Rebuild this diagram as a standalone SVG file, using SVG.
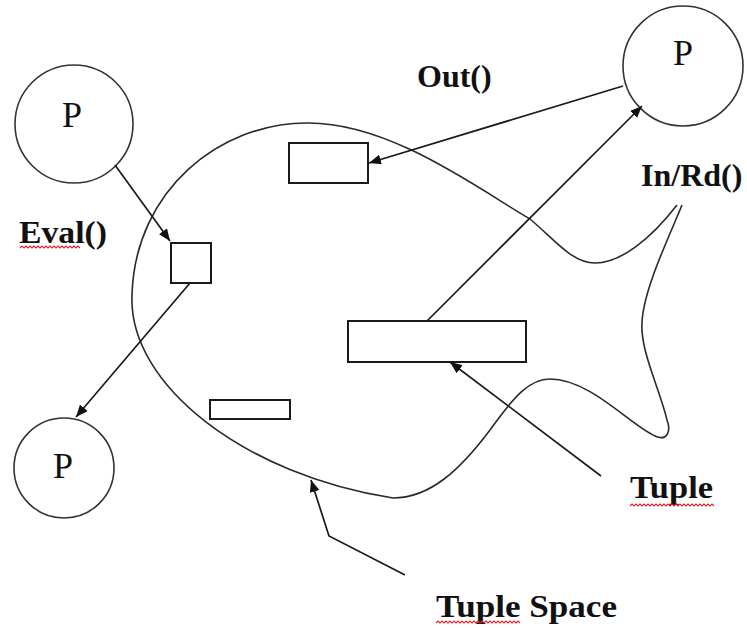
<svg xmlns="http://www.w3.org/2000/svg" width="747" height="628" viewBox="0 0 747 628">
  <style>
    .proc { fill: #ffffff; stroke: #333333; stroke-width: 1.6; }
    .ptxt { font-family: "Liberation Serif", "Times New Roman", serif; font-size: 36px; fill: #111111; text-anchor: middle; }
    .tuple { fill: #ffffff; stroke: #1a1a1a; stroke-width: 2; }
    .space { fill: none; stroke: #2a2a2a; stroke-width: 1.6; }
    .conn { fill: none; stroke: #1a1a1a; stroke-width: 1.7; marker-end: url(#arrow); }
    .lbl { font-family: "Liberation Serif", "Times New Roman", serif; font-weight: bold; font-size: 32px; fill: #111111; }
    .squig { fill: none; stroke: #e0202a; stroke-width: 1.1; }
  </style>
  <defs>
    <marker id="arrow" markerUnits="userSpaceOnUse" markerWidth="13" markerHeight="10" refX="12" refY="5" orient="auto">
      <path d="M0,0 L12,5 L0,10 z" fill="#111111"/>
    </marker>
  </defs>

  <rect x="0" y="0" width="747" height="628" fill="#ffffff"/>

  <!-- tuple space outline (fish shape) -->
  <g id="tuple-space">
    <path class="space" d="M677,205
      C650,240 620,263 595,263
      C572,263 555,240 530,219
      C480,190 390,122 307,123
      C220,123 135,190 132,295
      C128,385 245,475 393,498
      C430,498 460,470 490,430
      C515,395 530,379 550,379
      C590,379 630,425 655,436
      C668,442 671,430 667,420
      C660,390 640,350 642,323
      C643,290 670,235 682,205"/>
  </g>

  <!-- processes -->
  <g id="proc-top-left">
    <circle class="proc" cx="74" cy="124" r="59"/>
    <text class="ptxt" x="72" y="127">P</text>
  </g>
  <g id="proc-bottom-left">
    <circle class="proc" cx="64" cy="468" r="50"/>
    <text class="ptxt" x="63" y="478">P</text>
  </g>
  <g id="proc-top-right">
    <circle class="proc" cx="683" cy="66" r="60"/>
    <text class="ptxt" x="683" y="65">P</text>
  </g>

  <!-- tuples -->
  <g id="tuple-eval"><rect class="tuple" x="171" y="243" width="40" height="40"/></g>
  <g id="tuple-out"><rect class="tuple" x="289" y="143" width="79" height="40"/></g>
  <g id="tuple-in"><rect class="tuple" x="348" y="321" width="178" height="41"/></g>
  <g id="tuple-idle"><rect class="tuple" x="210" y="400" width="80" height="19"/></g>

  <!-- connectors -->
  <g id="connectors">
    <line class="conn" x1="115" y1="165" x2="170" y2="241"/>
    <line class="conn" x1="190" y1="283" x2="76" y2="417"/>
    <line class="conn" x1="623" y1="86" x2="369" y2="163"/>
    <line class="conn" x1="427" y1="321" x2="642" y2="106"/>
    <line class="conn" x1="601" y1="476" x2="450" y2="362"/>
    <polyline class="conn" points="405,575 329,536 311,480"/>
  </g>

  <!-- labels -->
  <g id="labels">
    <text class="lbl" x="19" y="243" textLength="88" lengthAdjust="spacingAndGlyphs">Eval()</text>
    <path class="squig" d="M20,248 l2,-2 l2,2 l2,-2 l2,2 l2,-2 l2,2 l2,-2 l2,2 l2,-2 l2,2 l2,-2 l2,2 l2,-2 l2,2 l2,-2 l2,2 l2,-2 l2,2 l2,-2 l2,2 l2,-2 l2,2 l2,-2 l2,2 l2,-2 l2,2 l2,-2 l2,2 l2,-2 l2,2"/>
    <text class="lbl" x="417" y="87">Out()</text>
    <text class="lbl" x="641" y="186">In/Rd()</text>
    <text class="lbl" x="630" y="498" textLength="83" lengthAdjust="spacingAndGlyphs">Tuple</text>
    <path class="squig" d="M630,506 l2,-2 l2,2 l2,-2 l2,2 l2,-2 l2,2 l2,-2 l2,2 l2,-2 l2,2 l2,-2 l2,2 l2,-2 l2,2 l2,-2 l2,2 l2,-2 l2,2 l2,-2 l2,2 l2,-2 l2,2 l2,-2 l2,2 l2,-2 l2,2 l2,-2 l2,2 l2,-2 l2,2 l2,-2 l2,2 l2,-2 l2,2 l2,-2 l2,2 l2,-2 l2,2 l2,-2 l2,2 l2,-2 l2,2"/>
    <text class="lbl" x="436" y="617" textLength="181" lengthAdjust="spacingAndGlyphs">Tuple Space</text>
    <path class="squig" d="M436,623 l2,-2 l2,2 l2,-2 l2,2 l2,-2 l2,2 l2,-2 l2,2 l2,-2 l2,2 l2,-2 l2,2 l2,-2 l2,2 l2,-2 l2,2 l2,-2 l2,2 l2,-2 l2,2 l2,-2 l2,2 l2,-2 l2,2 l2,-2 l2,2 l2,-2 l2,2 l2,-2 l2,2 l2,-2 l2,2 l2,-2 l2,2 l2,-2 l2,2 l2,-2 l2,2 l2,-2 l2,2 l2,-2 l2,2"/>
  </g>
</svg>
